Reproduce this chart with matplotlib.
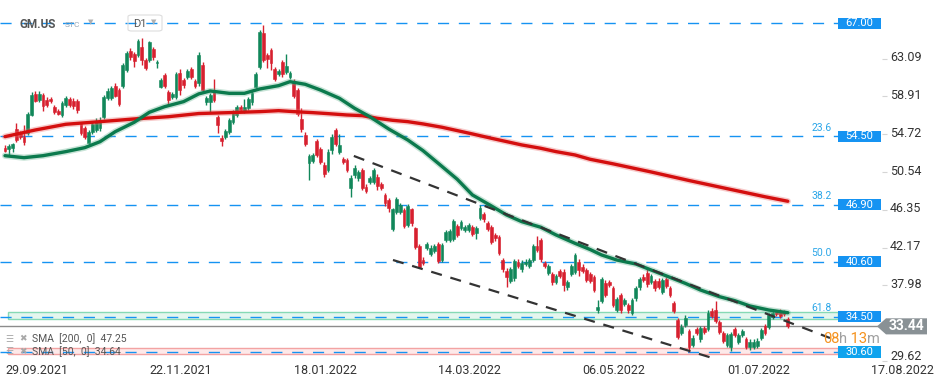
import matplotlib
matplotlib.use('Agg')
import matplotlib.pyplot as plt
import matplotlib.transforms as mtransforms
from matplotlib.patches import Rectangle, Polygon, FancyBboxPatch
import numpy as np

plt.rcParams['font.family'] = ['Roboto', 'DejaVu Sans']

W, H = 949, 385

# daily candles, GM.US D1
opens = [53.24, 53.06, 53.17, 55.31, 54.83, 54.46, 54.83, 56.86, 59.19, 58.52,
         59.08, 58.52, 58.63, 57.78, 57.30, 56.86, 57.97, 58.63, 58.41, 58.41,
         55.83, 55.38, 53.72, 55.01, 55.20, 55.38, 56.67, 58.71, 58.78, 60.04,
         59.63, 60.11, 61.85, 63.95, 63.58, 63.51, 64.43, 62.95, 62.95, 64.17,
         62.58, 60.00, 61.29, 59.37, 58.89, 58.89, 61.48, 60.74, 61.11, 61.96,
         60.63, 60.37, 62.40, 58.26, 58.34, 59.63, 56.67, 54.35, 54.46, 54.94,
         56.12, 56.86, 57.78, 57.34, 57.60, 58.26, 60.00, 62.22, 65.91, 63.51,
         64.06, 61.96, 61.44, 62.77, 61.66, 61.11, 60.55, 59.63, 56.42, 54.64,
         51.58, 51.76, 53.98, 53.09, 51.32, 50.76, 52.98, 55.20, 52.72, 51.98,
         51.87, 48.73, 50.21, 49.84, 50.76, 48.92, 49.47, 49.47, 50.03, 49.18,
         47.99, 47.44, 44.20, 46.15, 46.15, 46.34, 44.67, 46.41, 44.31, 42.35,
         40.80, 42.16, 41.43, 41.83, 42.57, 40.80, 43.01, 43.01, 43.12, 44.56,
         44.31, 44.12, 44.12, 44.42, 43.83, 45.49, 45.86, 44.93, 44.49, 43.57,
         43.38, 40.80, 39.62, 38.47, 38.77, 40.61, 39.76, 40.32, 40.17, 40.80,
         42.35, 43.01, 40.43, 39.39, 39.25, 38.40, 39.54, 39.50, 37.77, 39.25,
         39.50, 40.61, 40.06, 39.69, 39.24, 38.87, 35.25, 36.29, 38.21, 38.39,
         37.65, 35.25, 36.92, 35.92, 35.81, 34.96, 36.55, 37.77, 38.95, 39.32,
         38.39, 38.47, 38.50, 37.28, 38.65, 37.73, 35.99, 34.15, 32.67, 33.59,
         32.96, 31.38, 33.11, 32.00, 33.22, 33.11, 35.18, 35.25, 33.89, 32.74,
         31.38, 31.12, 33.11, 31.75, 32.48, 32.08, 31.12, 31.19, 31.27, 32.11,
         33.48, 33.33, 34.44, 35.07, 35.14, 35.07, 34.22]
highs = [53.54, 53.60, 53.80, 55.94, 55.10, 55.75, 57.20, 59.40, 59.52, 59.50,
         59.35, 58.80, 58.90, 58.00, 57.50, 58.40, 59.00, 58.90, 58.70, 58.60,
         56.10, 55.60, 55.20, 56.10, 56.50, 56.60, 59.10, 59.80, 60.10, 60.40,
         59.90, 62.60, 63.90, 64.25, 63.80, 65.28, 65.35, 63.20, 65.10, 64.40,
         62.95, 60.95, 61.50, 59.60, 59.40, 61.60, 61.90, 61.00, 62.00, 62.20,
         60.90, 63.80, 62.70, 59.00, 59.30, 60.85, 56.90, 54.60, 55.30, 56.50,
         57.40, 58.00, 58.00, 58.60, 58.90, 59.50, 61.60, 66.30, 66.83, 63.75,
         64.30, 62.20, 61.95, 63.00, 63.58, 61.70, 60.80, 59.90, 57.60, 55.01,
         52.50, 52.70, 54.20, 53.30, 51.60, 53.10, 54.70, 55.40, 54.70, 52.20,
         52.10, 50.20, 51.30, 50.80, 51.00, 49.20, 50.10, 51.00, 50.30, 49.40,
         48.20, 47.70, 46.60, 47.75, 47.10, 46.60, 47.00, 46.60, 44.50, 42.60,
         41.10, 42.80, 42.40, 42.60, 42.80, 42.70, 44.10, 44.25, 45.35, 44.80,
         45.20, 44.65, 44.90, 44.65, 44.55, 46.85, 46.10, 45.15, 44.70, 43.80,
         43.60, 41.05, 39.85, 40.00, 40.95, 40.85, 40.75, 40.85, 41.05, 42.60,
         43.46, 43.25, 40.65, 40.35, 39.50, 39.25, 39.80, 39.75, 38.55, 40.35,
         41.60, 40.85, 40.30, 39.90, 39.50, 39.10, 36.36, 38.90, 38.60, 38.60,
         37.90, 36.70, 37.15, 36.60, 36.05, 36.60, 37.95, 38.90, 39.20, 39.76,
         39.25, 38.70, 38.75, 38.80, 38.90, 37.95, 36.20, 34.40, 33.65, 34.70,
         33.20, 32.45, 33.35, 33.45, 33.45, 35.20, 35.44, 36.21, 34.10, 32.95,
         32.70, 32.85, 33.35, 32.70, 33.20, 32.30, 32.00, 32.00, 32.10, 33.30,
         33.70, 34.95, 35.20, 35.30, 35.40, 35.30, 34.45]
lows = [52.80, 52.43, 52.72, 53.91, 54.20, 53.54, 54.60, 56.70, 58.26, 58.30,
        57.30, 57.70, 58.20, 57.00, 56.86, 56.60, 57.70, 57.70, 57.50, 57.10,
        54.60, 54.20, 53.61, 54.80, 55.00, 55.10, 56.40, 58.50, 58.50, 58.80,
        57.80, 59.90, 61.60, 62.95, 62.22, 63.30, 62.40, 61.80, 62.70, 63.00,
        62.03, 59.80, 59.90, 57.97, 58.60, 58.60, 59.08, 59.90, 60.90, 60.80,
        59.90, 60.10, 59.40, 58.00, 57.23, 58.30, 54.83, 53.46, 54.20, 54.70,
        55.90, 56.60, 57.20, 57.10, 57.40, 58.00, 59.80, 61.90, 62.70, 62.03,
        61.85, 60.60, 61.20, 61.10, 61.40, 60.90, 58.70, 56.70, 55.00, 53.40,
        49.66, 51.50, 52.20, 51.40, 50.00, 50.50, 52.50, 53.40, 52.50, 51.40,
        50.50, 47.81, 49.90, 49.60, 48.50, 48.20, 49.20, 49.20, 48.50, 48.60,
        46.80, 46.10, 44.00, 45.90, 45.90, 44.30, 44.40, 44.60, 42.00, 39.87,
        40.20, 41.90, 41.20, 41.60, 40.50, 40.55, 42.80, 42.80, 42.90, 43.35,
        44.10, 43.90, 43.90, 43.40, 43.10, 45.25, 45.05, 43.95, 42.60, 42.95,
        41.35, 39.50, 37.84, 38.20, 38.50, 39.90, 39.50, 40.10, 39.95, 40.55,
        41.65, 40.60, 39.90, 39.15, 38.00, 38.15, 38.80, 37.40, 37.50, 39.00,
        39.25, 39.05, 39.40, 38.35, 38.25, 37.25, 34.88, 36.05, 36.70, 37.80,
        35.60, 35.00, 34.90, 35.70, 34.90, 34.70, 36.30, 37.50, 38.35, 37.85,
        38.15, 37.40, 37.60, 37.05, 37.70, 36.70, 34.95, 32.05, 32.45, 33.35,
        30.64, 31.15, 32.50, 31.75, 32.60, 32.90, 34.35, 33.80, 32.60, 31.60,
        31.12, 30.70, 32.25, 31.50, 32.25, 30.95, 30.82, 30.95, 31.00, 31.90,
        32.45, 33.10, 34.20, 34.60, 34.35, 34.60, 33.30]
closes = [52.86, 53.42, 53.68, 54.09, 54.46, 53.90, 56.93, 59.08, 58.45, 59.22,
          57.89, 57.97, 58.41, 57.23, 57.01, 58.15, 58.71, 57.97, 57.89, 57.41,
          54.83, 54.46, 55.01, 55.83, 56.20, 56.31, 58.89, 59.52, 59.89, 59.00,
          58.04, 62.40, 63.69, 63.32, 62.84, 65.06, 62.95, 62.03, 64.91, 63.32,
          62.77, 60.74, 60.11, 58.52, 59.19, 61.37, 59.63, 60.18, 61.73, 61.11,
          60.11, 63.51, 59.63, 58.78, 59.08, 58.52, 55.75, 54.02, 55.09, 56.31,
          57.23, 57.78, 57.41, 57.78, 58.63, 59.26, 61.37, 66.09, 62.95, 63.06,
          62.58, 60.85, 61.74, 61.37, 62.29, 61.48, 58.97, 56.93, 55.27, 53.68,
          52.28, 52.43, 52.43, 51.69, 50.32, 52.80, 54.46, 53.61, 53.54, 51.69,
          50.76, 49.92, 51.02, 50.58, 48.73, 48.44, 49.84, 50.76, 49.03, 48.81,
          47.07, 46.59, 46.41, 47.52, 46.89, 44.56, 46.78, 44.86, 42.27, 40.06,
          40.43, 42.53, 42.16, 42.35, 40.72, 42.46, 43.86, 44.01, 45.12, 43.57,
          44.97, 44.42, 44.67, 43.64, 44.34, 46.60, 45.30, 44.20, 42.83, 43.20,
          41.61, 39.76, 38.88, 39.76, 40.69, 40.13, 40.50, 40.61, 40.80, 42.35,
          41.90, 40.87, 40.13, 40.13, 38.40, 39.02, 39.06, 38.03, 38.32, 40.13,
          41.35, 39.69, 39.62, 38.58, 38.50, 37.47, 35.62, 38.65, 36.92, 38.02,
          35.81, 36.44, 35.25, 36.36, 35.25, 36.36, 37.73, 38.65, 38.58, 38.10,
          39.02, 37.65, 37.84, 38.58, 37.91, 36.92, 35.18, 32.30, 33.41, 34.33,
          31.12, 32.19, 32.74, 33.22, 32.85, 34.96, 34.59, 34.04, 32.85, 31.86,
          32.48, 32.59, 32.48, 32.48, 32.96, 31.19, 31.75, 31.75, 31.86, 33.04,
          32.67, 34.70, 34.96, 34.81, 34.59, 34.81, 33.44]

# moving averages (bar index, value)
sma200_idx = [0, 8, 16, 25, 34, 43, 51, 59, 67, 72, 76, 81, 85, 90, 94, 98,
              102, 106, 110, 115, 119, 123, 128, 132, 136, 141, 145, 150, 154,
              160, 170, 180, 190, 200, 206]
sma200_val = [54.46, 55.20, 55.83, 56.12, 56.42, 56.67, 57.02, 57.12, 57.23,
              57.34, 57.23, 57.12, 57.01, 56.86, 56.79, 56.49, 56.27, 56.12,
              55.87, 55.50, 55.13, 54.76, 54.28, 53.91, 53.54, 53.17, 52.80,
              52.43, 51.95, 51.45, 50.55, 49.60, 48.70, 47.80, 47.30]
sma50_idx = [0, 5, 10, 16, 21, 25, 29, 34, 38, 42, 47, 51, 54, 59, 63, 67, 72,
             75, 79, 83, 88, 92, 96, 101, 106, 110, 114, 119, 123, 128, 132,
             136, 141, 145, 150, 154, 157, 161, 166, 170, 175, 179, 183, 188,
             192, 196, 201, 206]
sma50_val = [52.35, 52.13, 52.35, 52.80, 53.24, 53.90, 55.01, 56.05, 57.16,
             57.78, 58.34, 59.20, 59.52, 59.26, 59.26, 59.74, 60.11, 60.55,
             60.26, 59.63, 58.71, 57.60, 56.67, 55.30, 54.09, 52.91, 51.51,
             49.74, 48.00, 46.78, 45.78, 45.04, 44.42, 43.57, 42.64, 41.95,
             41.35, 40.79, 40.35, 39.69, 38.87, 38.21, 37.47, 36.73, 36.29,
             35.70, 35.25, 34.95]

# channel lines (bar, price)
upper_x = [91.8, 217.1]
upper_y = [52.32, 32.15]
lower_x = [102.1, 186.1]
lower_y = [40.79, 29.94]

fib_prices = [67.00, 54.50, 46.90, 40.60, 34.50, 30.60]
fib_labels = ['', '23.6', '38.2', '50.0', '61.8', '']
last_price = 33.44

right_ticks = [63.09, 58.91, 54.72, 50.54, 46.35, 42.17, 37.98, 29.62]
date_ticks = [0, 38, 76, 114, 152, 190, 228]
date_labels = ['29.09.2021', '22.11.2021', '18.01.2022', '14.03.2022',
               '06.05.2022', '01.07.2022', '17.08.2022']

GREEN = '#11875a'
RED = '#d7202f'
BLUE = '#1593f2'
FIBTXT = '#2ba6e8'
ORANGE = '#f5921e'


def fx(px):
    return px / W


def fy(py):
    return 1 - py / H


fig = plt.figure(figsize=(W / 100, H / 100), dpi=100)
ax = fig.add_axes([0, 23 / H, 882 / W, 362 / H])
ax.set_xlim((0 - 5) / 3.8, (882 - 5) / 3.8)
ax.set_ylim(29.49, 69.60)
for s in ax.spines.values():
    s.set_visible(False)

ax_blend = mtransforms.blended_transform_factory(ax.transAxes, ax.transData)
fig_blend = mtransforms.blended_transform_factory(fig.transFigure, ax.transData)

# support / resistance bands
ax.axhspan(34.2, 35.0, xmin=8 / 882, xmax=838 / 882, facecolor='#e4f6ee',
           edgecolor='#86d9b5', lw=1, zorder=1)
ax.axhspan(30.35, 31.0, xmin=8 / 882, xmax=838 / 882, facecolor='#fde9e9',
           edgecolor='#f3a3a3', lw=1, zorder=1)

# fibonacci levels
x_end = (838 - 5) / 3.8
ax.hlines(fib_prices, ax.get_xlim()[0], x_end, colors=BLUE, lw=1.0,
          linestyles=(0, (8, 7)), zorder=2)
for p, lab in zip(fib_prices, fib_labels):
    if lab:
        ax.annotate(lab, xy=(832 / 882, p), xycoords=ax_blend,
                    xytext=(0, 6.3), textcoords='offset points',
                    ha='right', va='center', fontsize=7.5, color=FIBTXT)
    box_col = '#0ea3ee' if p == 30.60 else BLUE
    ax.add_patch(Rectangle((838 / 882, p - 0.62), 43 / 882, 1.24,
                           transform=ax_blend, facecolor=box_col,
                           edgecolor='none', clip_on=False, zorder=6))
    ax.text(859.5 / 882, p, f'{p:.2f}', transform=ax_blend, ha='center',
            va='center', fontsize=8, color='white', clip_on=False, zorder=7)

# last price line
ax.axhline(last_price, color='#8c8c8c', lw=1, zorder=2)

# candles
idx = np.arange(len(closes))
o = np.array(opens)
c = np.array(closes)
up = c >= o
cols = np.where(up, GREEN, RED)
ax.vlines(idx, lows, highs, colors=cols, lw=1, zorder=4)
ax.bar(idx, np.maximum(np.abs(c - o), 0.1), 0.7, bottom=np.minimum(o, c),
       color=cols, edgecolor=cols, lw=0.4, zorder=5)

# moving averages
ax.plot(sma200_idx, sma200_val, color='#e86a6a', lw=4.5, alpha=0.35,
        solid_capstyle='round', zorder=5)
ax.plot(sma200_idx, sma200_val, color='#d40f0f', lw=2.4,
        solid_capstyle='round', zorder=6)
ax.plot(sma50_idx, sma50_val, color='#5fb08c', lw=4.5, alpha=0.35,
        solid_capstyle='round', zorder=5)
ax.plot(sma50_idx, sma50_val, color='#0b7a4d', lw=2.4,
        solid_capstyle='round', zorder=6)

# channel
ax.plot(upper_x, upper_y, color='#333333', lw=1.6, dashes=(5, 4), zorder=7)
ax.plot(lower_x, lower_y, color='#333333', lw=1.6, dashes=(5, 4), zorder=7)

# axes ticks
ax.yaxis.tick_right()
ax.set_yticks(right_ticks)
ax.set_yticklabels([f'{v:.2f}' for v in right_ticks])
ax.tick_params(axis='y', length=3.6, width=0.8, color='#d5d5d5', pad=2.2,
               labelsize=9, labelcolor='#333333')
shift = mtransforms.ScaledTranslation(0, 2.5 / 100, fig.dpi_scale_trans)
ylabels = ax.get_yticklabels()
for lbl in ylabels:
    lbl.set_transform(lbl.get_transform() + shift)
ylabels[-1].set_transform(ylabels[-1].get_transform()
                          + mtransforms.ScaledTranslation(0, 3.5 / 100, fig.dpi_scale_trans))

ax.set_xticks(date_ticks)
ax.set_xticklabels(date_labels)
ax.tick_params(axis='x', length=0, pad=1.5, labelsize=9, labelcolor='#333333')
for lbl in ax.get_xticklabels():
    lbl.set_ha('left')

# last price tag
tag_h = 0.89
ax.add_patch(Polygon([(fx(877), last_price), (fx(886), last_price + tag_h),
                      (fx(927), last_price + tag_h), (fx(927), last_price - tag_h),
                      (fx(886), last_price - tag_h)], closed=True,
                     transform=fig_blend, facecolor='#899195', edgecolor='none',
                     clip_on=False, zorder=8))
ax.text(fx(906), last_price, f'{last_price:.2f}', transform=fig_blend,
        ha='center', va='center', fontsize=10, fontweight='bold',
        color='white', clip_on=False, zorder=9)

# candle countdown
t = fig.text(fx(823), fy(339), '08', fontsize=10.5, color=ORANGE, va='center')
for piece, col in [('h', '#a0a0a0'), (' 13', ORANGE), ('m', '#a0a0a0')]:
    t = ax.annotate(piece, xy=(1, 0), xycoords=t, va='bottom', ha='left',
                    fontsize=10.5, color=col, annotation_clip=False)

# header
fig.text(fx(20), fy(24), 'GM.US', fontsize=8.5, fontweight='bold',
         color='#555555', va='center')
fig.text(fx(65), fy(25), 'STC', fontsize=6, color='#93a3b3', va='center')
fig.text(fx(88), fy(23), '\u25bc', fontsize=5, color='#b0b0b0', va='center')
fig.patches.append(FancyBboxPatch((fx(128), fy(31)), fx(34), 16 / H,
                                  boxstyle='round,pad=0,rounding_size=0.004',
                                  transform=fig.transFigure, fill=False,
                                  ec='#dddddd', lw=0.8))
fig.text(fx(133), fy(24), 'D1', fontsize=8, color='#555555', va='center')
fig.text(fx(151), fy(23), '\u25bc', fontsize=5, color='#b0b0b0', va='center')

# indicator legend
for py, txt in [(339, 'SMA  [200,  0]  47.25'), (352, 'SMA  [50,  0]  34.64')]:
    fig.text(fx(5), fy(py), '\u2630', fontsize=6.5, color='#a8a8a8', va='center')
    fig.text(fx(19), fy(py), '\u2716', fontsize=6.5, color='#a8a8a8', va='center')
    fig.text(fx(32), fy(py), txt, fontsize=7.5, color='#555555', va='center')

fig.savefig('out.png', dpi=100)
